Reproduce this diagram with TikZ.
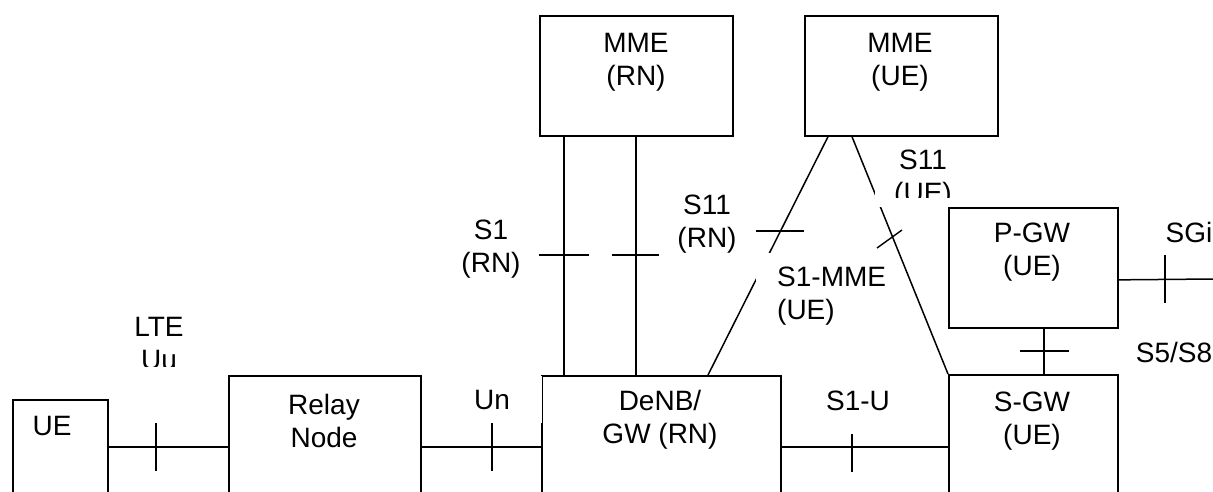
\documentclass[tikz,border=0pt]{standalone}
\usepackage{fontspec}
\setmainfont{Liberation Sans}
\begin{document}
\begin{tikzpicture}[x=1pt,y=-1pt,
  box/.style={draw, line width=1.7pt, inner sep=0pt, anchor=north west},
  conn/.style={line width=1.5pt},
  tick/.style={line width=1.4pt},
  txt/.style={font=\fontsize{28}{33}\selectfont, inner sep=0pt, align=center},
  frame/.style={fill=white, draw=none, inner sep=0pt, anchor=north west}]
\useasboundingbox (0,0) rectangle (1213,491);
\clip (0,0) rectangle (1213,491);
% boxes
\node[box, minimum width=95pt, minimum height=130pt] (ue) at (12,399) {};
\node[box, minimum width=192pt, minimum height=150pt] (relay) at (228,375) {};
\node[box, minimum width=239pt, minimum height=150pt] (denb) at (541,375) {};
\node[box, minimum width=169pt, minimum height=150pt] (sgw) at (948,374) {};
\node[box, minimum width=169pt, minimum height=120pt] (pgw) at (948,207) {};
\node[box, minimum width=193pt, minimum height=120pt] (mmern) at (539,15) {};
\node[box, minimum width=193pt, minimum height=120pt] (mmeue) at (804,15) {};
% connectors
\draw[conn] ([yshift=-48pt]ue.north east) -- ([yshift=-72pt]relay.north west);
\draw[conn] ([yshift=-72pt]relay.north east) -- ([yshift=-72pt]denb.north west);
\draw[conn] ([yshift=-72pt]denb.north east) -- ([yshift=-73pt]sgw.north west);
\draw[conn] ([xshift=25pt]mmern.south west) -- ([xshift=23pt]denb.north west);
\draw[conn] ([xshift=97pt]mmern.south west) -- ([xshift=95pt]denb.north west);
\draw[conn] ([xshift=24pt]mmeue.south west) -- ([xshift=167pt]denb.north west);
\draw[conn] ([xshift=48pt]mmeue.south west) -- (sgw.north west);
\draw[conn] ([xshift=96pt]pgw.south west) -- ([xshift=96pt]sgw.north west);
\coordinate (sgiend) at (1213,279);
\draw[conn] ([yshift=-12pt]pgw.east) -- (sgiend);
% ticks
\draw[tick] (156,423) -- (156,471);
\draw[tick] (492,423) -- (492,471);
\draw[tick] (852,434) -- (852,472);
\draw[tick] (539,255) -- (589,255);
\draw[tick] (612,255) -- (659,255);
\draw[tick] (756,231) -- (804,231);
\draw[tick] (877,248) -- (902,230);
\draw[tick] (1020,351) -- (1069,351);
\draw[tick] (1165,255) -- (1165,303);
% white label frames
\node[frame, minimum width=99.5pt, minimum height=47pt] (unf) at (442.5,376) {};
\node[frame, minimum width=140pt, minimum height=86pt] (s1mmef) at (756,253) {};
\node[frame, minimum width=97pt, minimum height=66.3pt] (s11uef) at (875,140) {};
% texts
\node[txt] (uet) at (52,426) {UE};
\node[txt] (relayt) at (324,421) {Relay\\Node};
\node[txt] (denbt) at (660,420) {DeNB/\\GW (RN)};
\node[txt] (mmernt) at (636,62.5) {MME\\(RN)};
\node[txt] (mmeuet) at (900,62.5) {MME\\(UE)};
\node[txt] (pgwt) at (1032,252.5) {P-GW\\(UE)};
\node[txt] (sgwt) at (1032,421) {S-GW\\(UE)};
\node[txt] (un) at (492,399.5) {Un};
\node[txt] (s1rn) at (491,249) {S1\\(RN)};
\node[txt] (s11rn) at (707,224) {S11\\(RN)};
\node[txt, anchor=west, align=left] (s1mme) at (777,296) {S1-MME\\(UE)};
\node[txt] (s5s8) at (1174,352) {S5/S8};
\node[txt] (sgi) at (1189,232) {SGi};
\node[txt] (s1u) at (858,401) {S1-U};
\begin{scope}
\clip (875,140) rectangle (972,197);
\node[txt] (s11ue) at (923,179.5) {S11\\(UE)};
\end{scope}
\begin{scope}
\clip (100,300) rectangle (220,366);
\node[txt] (lteuu) at (159,343.5) {LTE\\Uu};
\end{scope}
\end{tikzpicture}
\end{document}
